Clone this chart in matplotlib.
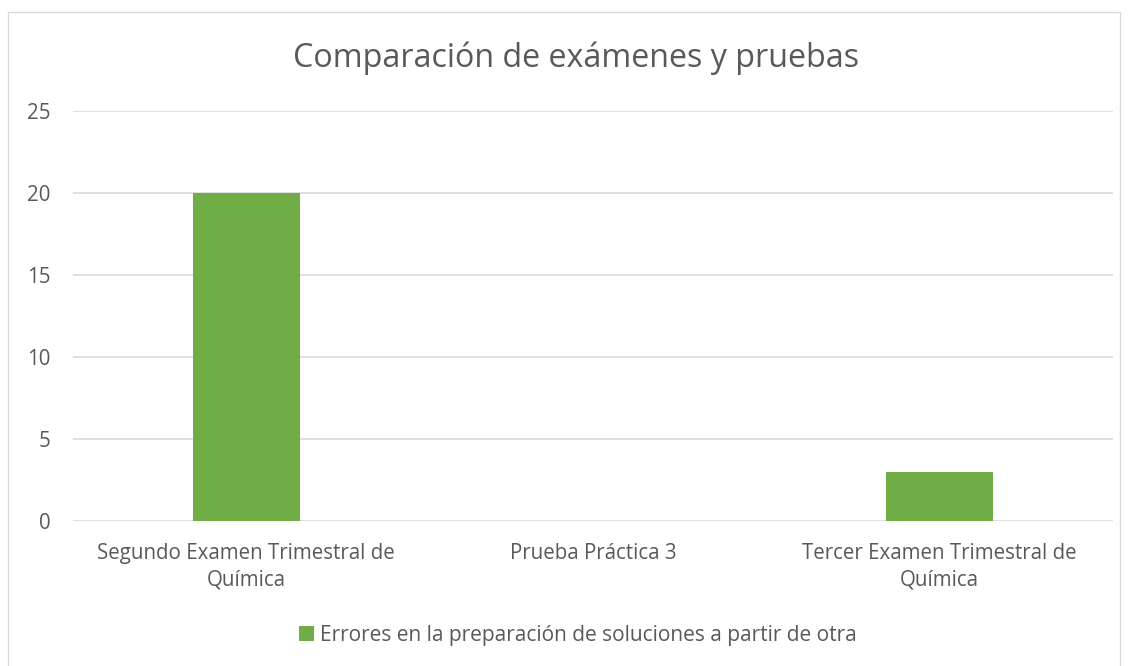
import matplotlib.pyplot as plt
from matplotlib.patches import Rectangle

categories = ["Segundo Examen Trimestral de\nQuímica", "Prueba Práctica 3",
              "Tercer Examen Trimestral de\nQuímica"]
values = [20, 0, 3]
series_name = "Errores en la preparación de soluciones a partir de otra"
yticks = [0, 5, 10, 15, 20, 25]

plt.rcParams['font.family'] = ['Open Sans', 'DejaVu Sans']
txt = '#595959'
grid = '#d9d9d9'
green = '#70ad47'

fig = plt.figure(figsize=(11.32, 6.66), dpi=100)
ax = fig.add_axes([73/1132, 1 - 521/666, (1113 - 73)/1132, (521 - 111)/666])

x = list(range(len(categories)))
ax.bar(x, values, width=0.31, color=green, zorder=3, label=series_name)
ax.set_xlim(-0.5, 2.5)
ax.set_ylim(0, 25)
ax.set_yticks(yticks)
ax.set_xticks(x)
ax.set_xticklabels(categories, fontsize=14.8, color=txt, linespacing=1.35)
ax.tick_params(axis='y', labelsize=14.8, labelcolor=txt, length=0, pad=16)
ax.tick_params(axis='x', length=0, pad=16)
ax.grid(axis='y', color=grid, linewidth=1.2, zorder=0)
for s in ax.spines.values():
    s.set_visible(False)

fig.text(576/1132, 1 - 58/666, "Comparación de exámenes y pruebas",
         ha='center', va='center', fontsize=23.2, color=txt)

leg = fig.legend(loc='center', bbox_to_anchor=(578/1132, 1 - 635/666), frameon=False,
                 fontsize=15, handlelength=0.7, handleheight=0.7, handletextpad=0.3)
for t in leg.get_texts():
    t.set_color(txt)

fig.patches.append(Rectangle((8/1132, -0.01), (1120 - 8)/1132, 1 - 12/666 + 0.01,
                             transform=fig.transFigure, fill=False,
                             edgecolor=grid, linewidth=1))

fig.savefig('out.png', dpi=100)
